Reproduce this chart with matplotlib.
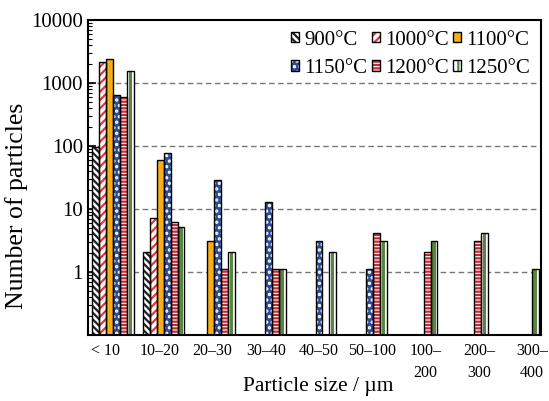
import numpy as np
import matplotlib
matplotlib.use("Agg")
import matplotlib.pyplot as plt
from matplotlib.patches import Patch
from matplotlib.legend_handler import HandlerTuple
from matplotlib.ticker import FixedLocator, LogLocator, NullFormatter, FixedFormatter

plt.rcParams['font.family'] = ['Liberation Serif', 'DejaVu Serif']
plt.rcParams['hatch.linewidth'] = 1.6

nan = np.nan
categories = ['< 10', '10–20', '20–30', '30–40', '40–50', '50–100',
              '100–\n200', '200–\n300', '300–\n400']
series_names = ['900°C', '1000°C', '1100°C', '1150°C', '1200°C', '1250°C']
v900 = [95, 2, nan, nan, nan, nan, nan, nan, nan]
v1000 = [2150, 7, nan, nan, nan, nan, nan, nan, nan]
v1100 = [2400, 60, 3, nan, nan, nan, nan, nan, nan]
v1150 = [640, 78, 29, 13, 3, 1, nan, nan, nan]
v1200 = [600, 6, 1, 1, nan, 4, 2, 3, nan]
v1250 = [1550, 5, 2, 1, 2, 3, 3, 4, 1]
all_values = [v900, v1000, v1100, v1150, v1200, v1250]
yticks = [1, 10, 100, 1000, 10000]
ytick_labels = ['1', '10', '100', '1000', '10000']

# styles: (facecolor, hatch, hatchcolor)
styles = [
    ('white', '\\\\\\\\\\', '#222222'),
    ('white', '////', '#EE3333'),
    ('#F6AE1A', None, None),
    ('#2C4C94', '...', 'white'),
    ('white', '-----', '#C42A36'),
    ('white', None, None),
]

fig = plt.figure(figsize=(5.49, 4.01), dpi=100)
ax = fig.add_axes([0.160, 0.165, 0.825, 0.785])

n = len(categories)
x = np.arange(n)
w = 0.136
handles = []
for j, (vals, (fc, hatch, hc)) in enumerate(zip(all_values, styles)):
    xs = x + (j - 2.5) * w
    vals = np.array(vals, dtype=float)
    parts = []
    if hatch is not None:
        ax.bar(xs, vals, w, bottom=0.1, color=fc, edgecolor=hc, hatch=hatch,
               linewidth=0, zorder=2)
        parts.append(Patch(facecolor=fc, edgecolor=hc, hatch=hatch, linewidth=0))
    else:
        ax.bar(xs, vals, w, bottom=0.1, color=fc, linewidth=0, zorder=2)
        parts.append(Patch(facecolor=fc, linewidth=0))
    if j == 5:
        ax.bar(xs, vals, w * 0.5, bottom=0.1, color='#5A8540', linewidth=0, zorder=2.5)
        parts.append(Patch(facecolor='none', edgecolor='#5A8540', hatch='|', linewidth=0))
    ax.bar(xs, vals, w, bottom=0.1, fill=False, edgecolor='black', linewidth=1.0, zorder=3)
    parts.append(Patch(facecolor='none', edgecolor='black', linewidth=1.0))
    handles.append(tuple(parts))

ax.set_yscale('log')
ax.set_ylim(0.1, 10000)
ax.set_xlim(-0.5, 8.45)
ax.yaxis.set_major_locator(FixedLocator(yticks))
ax.yaxis.set_major_formatter(FixedFormatter(ytick_labels))
ax.yaxis.set_minor_locator(LogLocator(base=10, subs=np.arange(2, 10), numticks=20))
ax.yaxis.set_minor_formatter(NullFormatter())
ax.tick_params(axis='y', which='major', direction='in', length=6, width=1.2,
               labelsize=15, right=False)
ax.tick_params(axis='y', which='minor', direction='in', length=3, width=0.8, right=False)

label_pos = np.linspace(-0.144, 8.28, n)
ax.set_xticks(label_pos)
ax.set_xticklabels(categories, fontsize=11.5, linespacing=1.45)
ax.tick_params(axis='x', length=0, pad=6)

for yv in [1, 10, 100, 1000]:
    ax.axhline(yv, color='#777777', lw=1.0, ls=(0, (4, 2.5)), zorder=1)

for s in ax.spines.values():
    s.set_linewidth(1.5)

ax.set_ylabel('Number of particles', fontsize=18.5, va='center')
ax.yaxis.set_label_coords(-0.158, 0.41)
ax.set_xlabel('Particle size / µm', fontsize=15.5, va='center')
ax.xaxis.set_label_coords(0.508, -0.163)

order = [0, 3, 1, 4, 2, 5]
leg = ax.legend([handles[i] for i in order], [series_names[i] for i in order],
                ncol=3, loc='upper right', frameon=False, fontsize=15,
                handlelength=0.4, handleheight=0.4, handletextpad=0.24,
                columnspacing=0.22, labelspacing=0.45, borderaxespad=0.15,
                borderpad=0.36,
                handler_map={tuple: HandlerTuple(ndivide=1, pad=0)})

fig.savefig('out.png', dpi=100)
